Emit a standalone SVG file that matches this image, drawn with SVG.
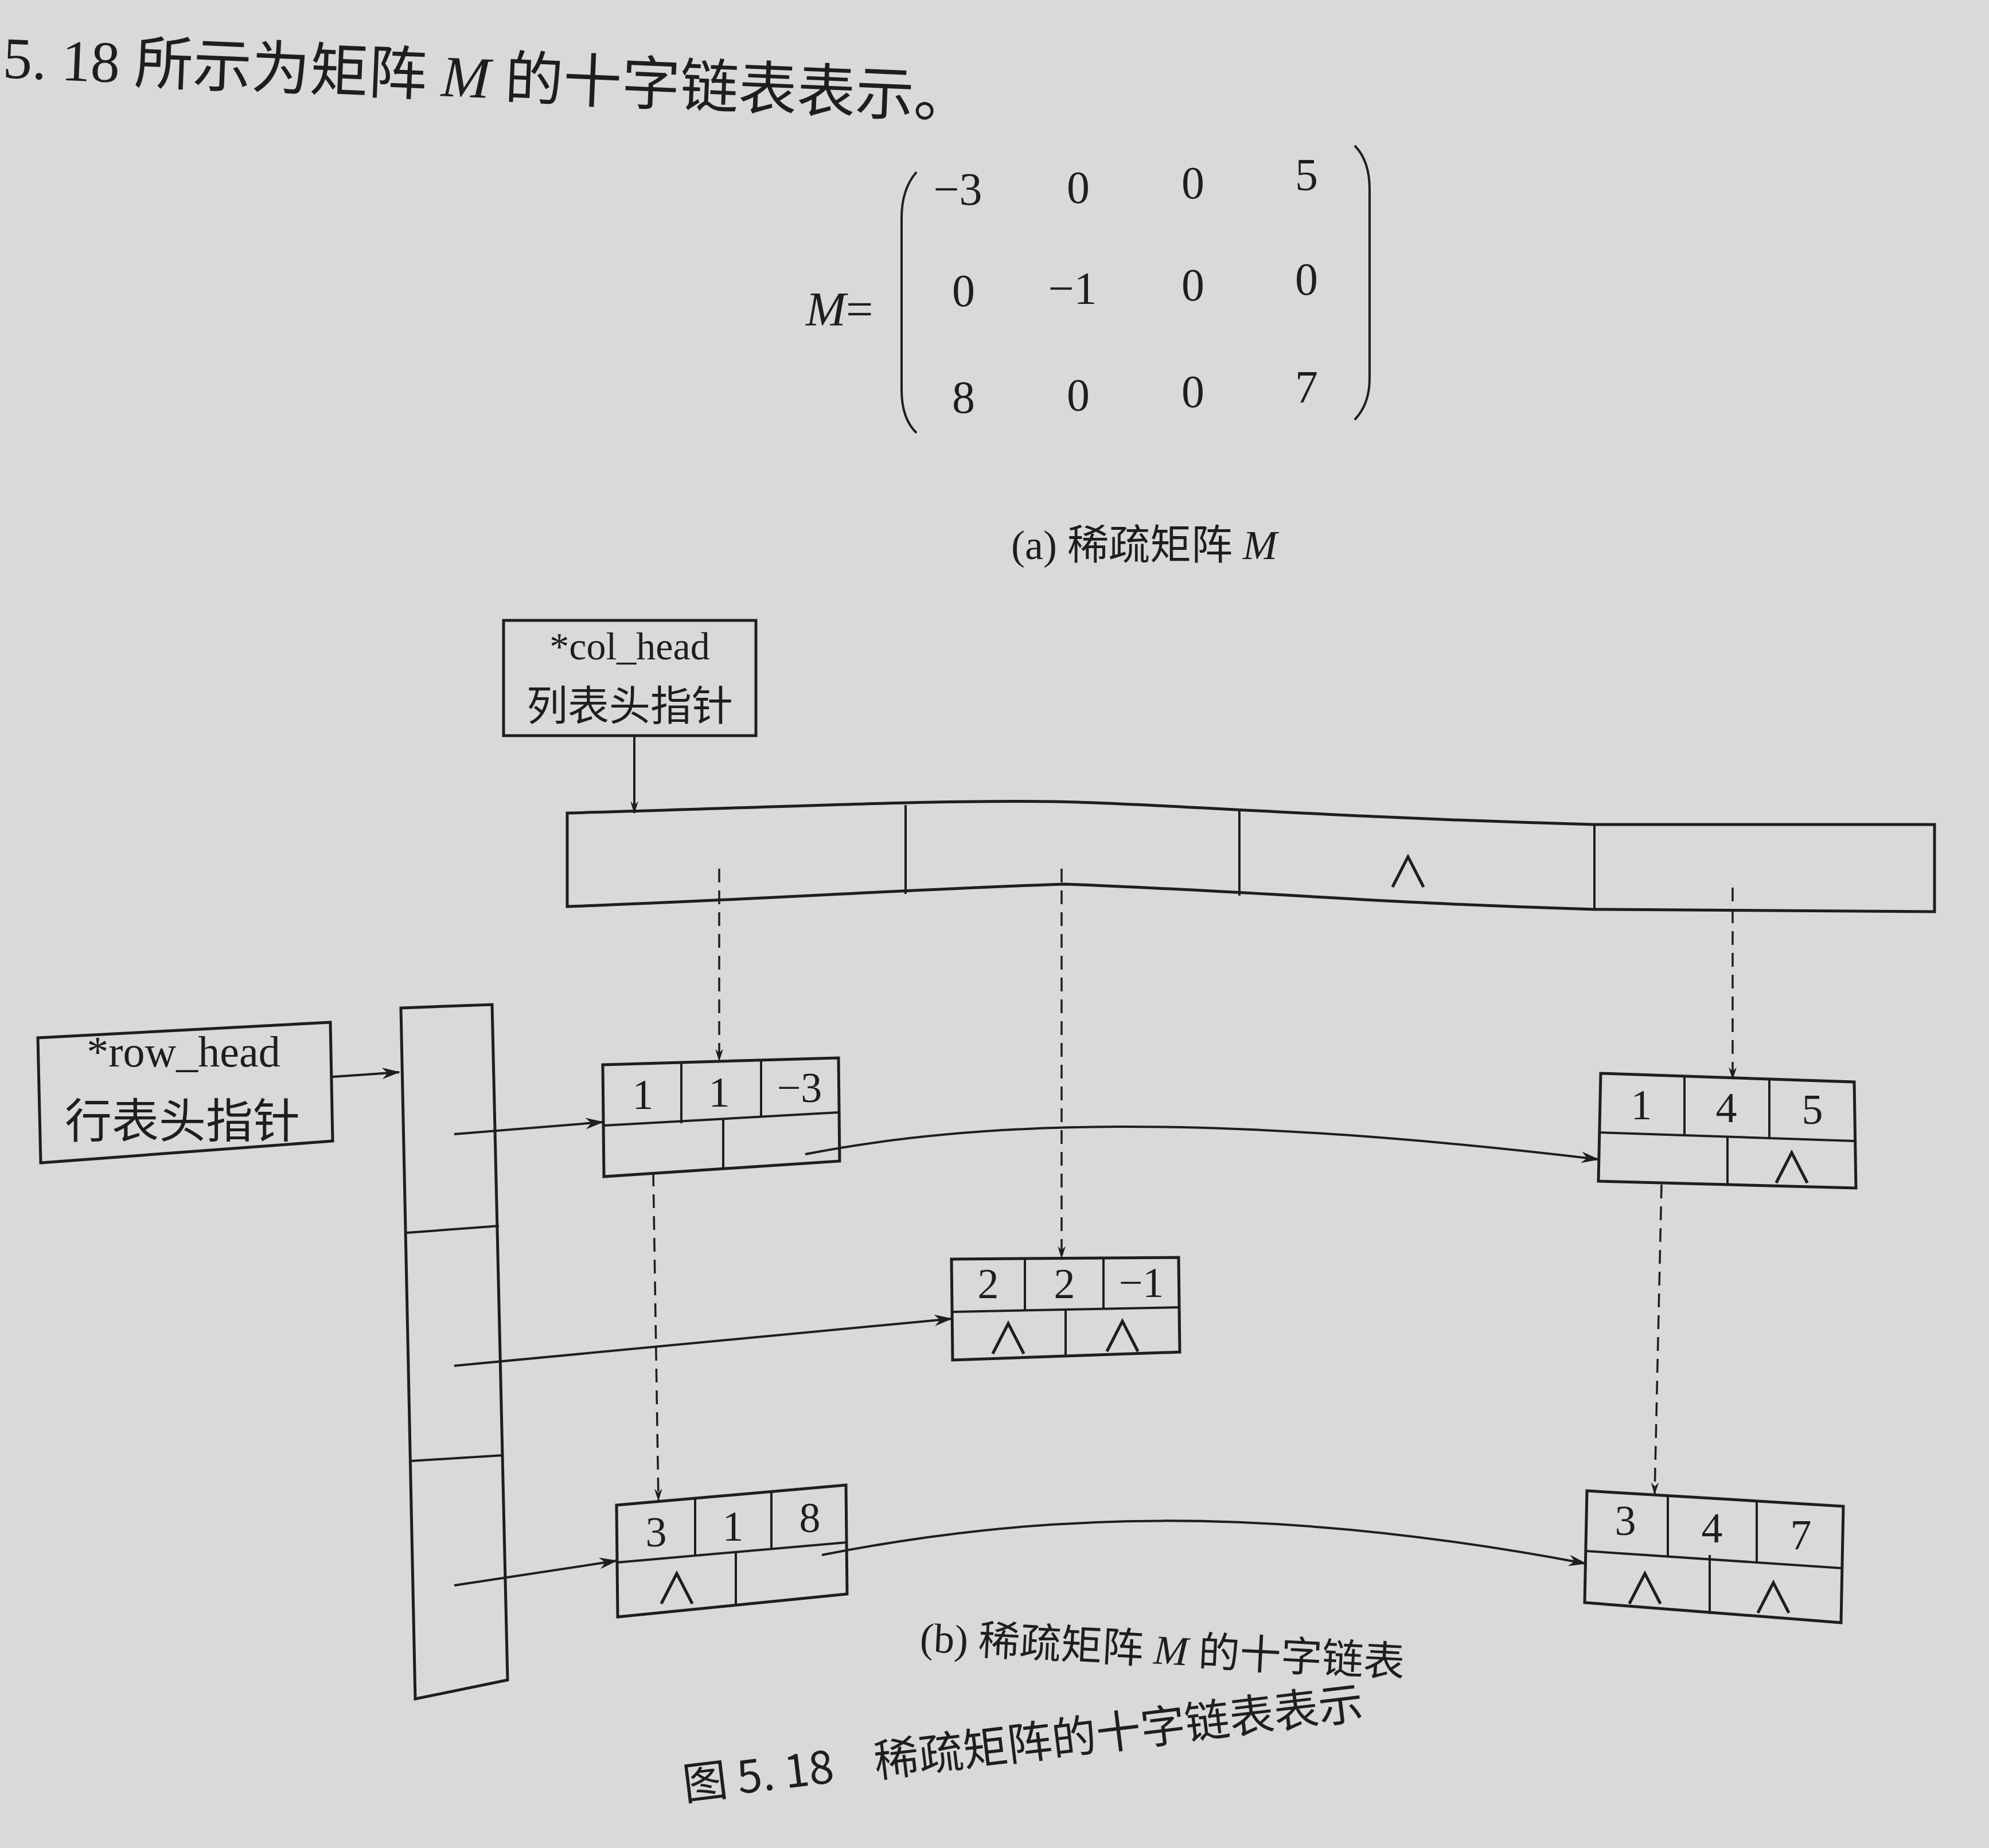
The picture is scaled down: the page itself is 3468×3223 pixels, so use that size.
<svg xmlns="http://www.w3.org/2000/svg" width="3468" height="3223" viewBox="0 0 3468 3223">
<defs>
<marker id="arr" viewBox="0 0 16 10" refX="15" refY="5" markerWidth="22" markerHeight="14" markerUnits="userSpaceOnUse" orient="auto">
<path d="M0,0 L16,5 L0,10 L5,5 z" fill="#1e1e1e"/>
</marker>
<marker id="arrb" viewBox="0 0 16 10" refX="15" refY="5" markerWidth="36" markerHeight="20" markerUnits="userSpaceOnUse" orient="auto">
<path d="M0,0 L16,5 L0,10 L5,5 z" fill="#1e1e1e"/>
</marker>
<style>
.bx{fill:none;stroke:#1e1e1e;stroke-width:5}
.ln{fill:none;stroke:#1e1e1e;stroke-width:4}
.dl{fill:none;stroke:#1e1e1e;stroke-width:3.5;stroke-dasharray:24 14}
.tx{font-family:"Liberation Serif","Noto Sans CJK SC",serif;fill:#1e1e1e}
.cj{font-family:"Noto Sans CJK SC",sans-serif;fill:#1e1e1e}
.num{font-family:"Liberation Serif",serif;font-size:74px;fill:#1e1e1e;text-anchor:middle}
.nil{font-family:"Noto Sans CJK SC",sans-serif;font-size:76px;fill:#1e1e1e;text-anchor:middle}
.mx{font-family:"Liberation Serif",serif;font-size:80px;fill:#1e1e1e;text-anchor:middle}
</style>
</defs>
<rect width="3468" height="3223" fill="#d9d9d9"/>

<!-- header text -->
<text class="tx" x="4" y="135" font-size="102" transform="rotate(2.4 0 135)">5. 18 所示为矩阵 <tspan font-style="italic">M</tspan> 的十字链表表示。</text>

<!-- matrix (a) -->
<g id="matrix">
<text class="tx" x="1405" y="568" font-size="84"><tspan font-style="italic">M</tspan>=</text>
<path class="ln" d="M1598,300 Q1572,330 1572,380 L1572,680 Q1572,730 1598,755"/>
<path class="ln" d="M2362,254 Q2388,280 2388,330 L2388,660 Q2388,705 2362,732"/>
<text class="mx" x="1670" y="357">−3</text>
<text class="mx" x="1880" y="354">0</text>
<text class="mx" x="2080" y="346">0</text>
<text class="mx" x="2278" y="332">5</text>
<text class="mx" x="1680" y="534">0</text>
<text class="mx" x="1870" y="530">−1</text>
<text class="mx" x="2080" y="524">0</text>
<text class="mx" x="2278" y="514">0</text>
<text class="mx" x="1680" y="720">8</text>
<text class="mx" x="1880" y="716">0</text>
<text class="mx" x="2080" y="710">0</text>
<text class="mx" x="2278" y="702">7</text>
</g>
<text class="tx" x="1763" y="975" font-size="72">(a) 稀疏矩阵 <tspan font-style="italic">M</tspan></text>

<!-- col_head pointer box -->
<g id="col_head_ptr">
<rect class="bx" x="878" y="1082" width="440" height="201"/>
<text class="tx" x="1098" y="1150" font-size="68" text-anchor="middle">*col_head</text>
<text class="cj" x="1098" y="1256" font-size="72" text-anchor="middle">列表头指针</text>
</g>

<!-- column head array -->
<g id="col_head_array">
<path class="bx" d="M989,1418 C1300,1410 1600,1395 1836,1398 C2000,1400 2300,1425 2780,1438 L3373,1438 L3373,1590 L2780,1586 C2400,1575 2200,1555 1858,1542 C1600,1550 1300,1570 989,1581 Z"/>
<line class="ln" x1="1579" y1="1404" x2="1579" y2="1559" stroke-width="3"/>
<line class="ln" x1="2161" y1="1411" x2="2161" y2="1562" stroke-width="3"/>
<line class="ln" x1="2780" y1="1438" x2="2780" y2="1586" stroke-width="3"/>
<text class="nil" x="2455" y="1548" font-size="88">∧</text>
</g>

<!-- row_head pointer box -->
<g id="row_head_ptr">
<path class="bx" d="M66,1810 L576,1783 L580,1990 L71,2028 Z"/>
<text class="tx" x="320" y="1860" font-size="76" text-anchor="middle">*row_head</text>
<text class="cj" x="318" y="1984" font-size="82" text-anchor="middle">行表头指针</text>
</g>

<!-- row head array -->
<g id="row_head_array">
<path class="bx" d="M699,1758 L858,1752 L885,2930 L724,2963 Z"/>
<line class="ln" x1="709" y1="2150" x2="870" y2="2138"/>
<line class="ln" x1="717" y1="2548" x2="878" y2="2538"/>
</g>

<!-- node (1,1,-3) -->
<g id="node_1_1">
<path class="bx" d="M1051,1857 L1462,1845 L1464,2025 L1053,2052 Z"/>
<line class="ln" x1="1052" y1="1963" x2="1463" y2="1940"/>
<line class="ln" x1="1188" y1="1853" x2="1188" y2="1959"/>
<line class="ln" x1="1327" y1="1849" x2="1327" y2="1948"/>
<line class="ln" x1="1261" y1="1952" x2="1261" y2="2040"/>
<text class="num" x="1121" y="1934">1</text>
<text class="num" x="1254" y="1930">1</text>
<text class="num" x="1394" y="1922">−3</text>
</g>

<!-- node (1,4,5) -->
<g id="node_1_4">
<path class="bx" d="M2791,1872 L3233,1887 L3236,2072 L2787,2060 Z"/>
<line class="ln" x1="2789" y1="1975" x2="3234" y2="1990"/>
<line class="ln" x1="2937" y1="1877" x2="2937" y2="1980"/>
<line class="ln" x1="3085" y1="1882" x2="3085" y2="1985"/>
<line class="ln" x1="3012" y1="1982" x2="3012" y2="2066"/>
<text class="num" x="2862" y="1952">1</text>
<text class="num" x="3010" y="1957">4</text>
<text class="num" x="3160" y="1960">5</text>
<text class="nil" x="3124" y="2064">∧</text>
</g>

<!-- node (2,2,-1) -->
<g id="node_2_2">
<path class="bx" d="M1659,2196 L2055,2193 L2057,2358 L1661,2372 Z"/>
<line class="ln" x1="1660" y1="2288" x2="2056" y2="2280"/>
<line class="ln" x1="1787" y1="2195" x2="1787" y2="2286"/>
<line class="ln" x1="1924" y1="2194" x2="1924" y2="2283"/>
<line class="ln" x1="1858" y1="2285" x2="1858" y2="2366"/>
<text class="num" x="1723" y="2264">2</text>
<text class="num" x="1856" y="2264">2</text>
<text class="num" x="1990" y="2262">−1</text>
<text class="nil" x="1758" y="2362">∧</text>
<text class="nil" x="1957" y="2358">∧</text>
</g>

<!-- node (3,1,8) -->
<g id="node_3_1">
<path class="bx" d="M1075,2625 L1475,2590 L1477,2780 L1077,2820 Z"/>
<line class="ln" x1="1076" y1="2725" x2="1476" y2="2690"/>
<line class="ln" x1="1212" y1="2613" x2="1212" y2="2713"/>
<line class="ln" x1="1345" y1="2601" x2="1345" y2="2702"/>
<line class="ln" x1="1283" y1="2707" x2="1283" y2="2800"/>
<text class="num" x="1144" y="2697">3</text>
<text class="num" x="1278" y="2687">1</text>
<text class="num" x="1412" y="2672">8</text>
<text class="nil" x="1180" y="2798">∧</text>
</g>

<!-- node (3,4,7) -->
<g id="node_3_4">
<path class="bx" d="M2767,2600 L3214,2627 L3210,2830 L2763,2795 Z"/>
<line class="ln" x1="2765" y1="2705" x2="3212" y2="2735"/>
<line class="ln" x1="2908" y1="2608" x2="2908" y2="2715"/>
<line class="ln" x1="3063" y1="2618" x2="3063" y2="2725"/>
<line class="ln" x1="2981" y1="2712" x2="2981" y2="2815"/>
<text class="num" x="2834" y="2677">3</text>
<text class="num" x="2985" y="2690">4</text>
<text class="num" x="3140" y="2702">7</text>
<text class="nil" x="2868" y="2798">∧</text>
<text class="nil" x="3092" y="2814">∧</text>
</g>

<!-- connectors -->
<g id="connectors">
<line class="ln" x1="1106" y1="1283" x2="1106" y2="1418" stroke-width="3" marker-end="url(#arr)"/>
<line class="ln" x1="580" y1="1878" x2="696" y2="1870" marker-end="url(#arrb)"/>
<line class="dl" x1="1254" y1="1515" x2="1254" y2="1850" marker-end="url(#arr)"/>
<line class="dl" x1="1851" y1="1515" x2="1851" y2="2194" marker-end="url(#arr)"/>
<line class="dl" x1="3021" y1="1548" x2="3021" y2="1882" marker-end="url(#arr)"/>
<line class="dl" x1="1139" y1="2045" x2="1148" y2="2617" marker-end="url(#arr)"/>
<line class="dl" x1="2897" y1="2066" x2="2885" y2="2606" marker-end="url(#arr)"/>
<line class="ln" x1="792" y1="1978" x2="1051" y2="1957" marker-end="url(#arrb)"/>
<line class="ln" x1="792" y1="2382" x2="1659" y2="2300" marker-end="url(#arrb)"/>
<line class="ln" x1="792" y1="2765" x2="1075" y2="2722" marker-end="url(#arrb)"/>
<path class="ln" d="M1404,2013 C1700,1955 2100,1940 2787,2022" marker-end="url(#arrb)"/>
<path class="ln" d="M1433,2712 C1800,2640 2200,2620 2765,2727" marker-end="url(#arrb)"/>
</g>

<!-- captions -->
<text class="tx" x="1603" y="2880" font-size="72" transform="rotate(3 1603 2880)">(b) 稀疏矩阵 <tspan font-style="italic">M</tspan> 的十字链表</text>
<g transform="rotate(-6.9 1194 3140)">
<text class="cj" x="1194" y="3140" font-size="78">图 5. 18</text>
<text class="cj" x="1530" y="3140" font-size="78">稀疏矩阵的十字链表表示</text>
</g>
</svg>
